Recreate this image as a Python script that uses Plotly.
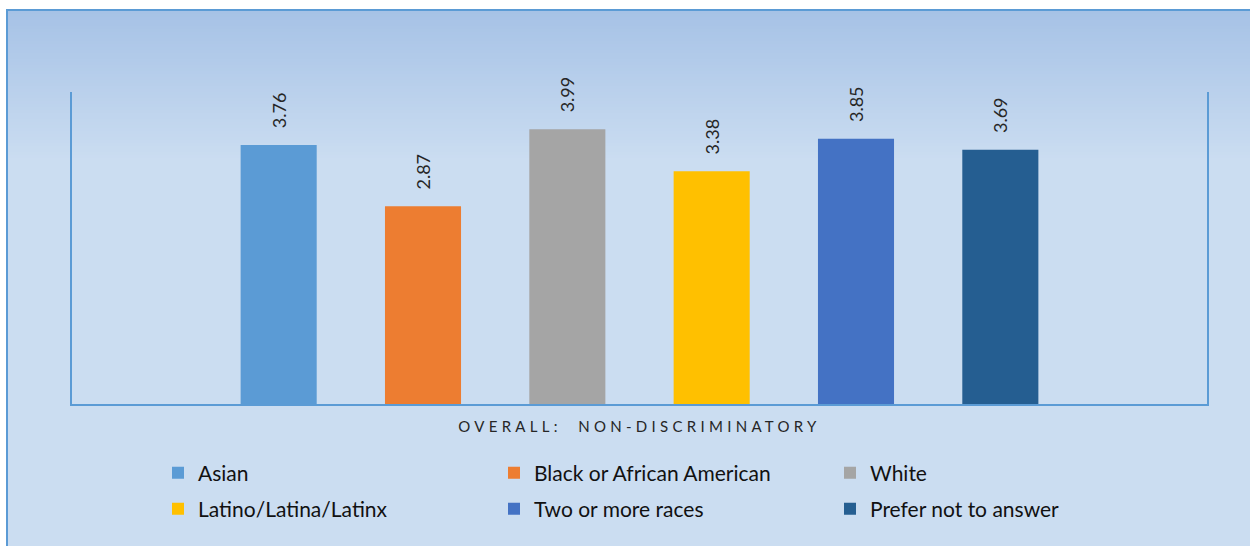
import plotly.graph_objects as go

# ---- data ----
category = ["OVERALL:\u00a0\u00a0NON-DISCRIMINATORY"]
groups = ["Asian", "Black or African American", "White",
          "Latino/Latina/Latinx", "Two or more races", "Prefer not to answer"]
values = [3.76, 2.87, 3.99, 3.38, 3.85, 3.69]
colors = ["#5B9BD5", "#ED7D31", "#A5A5A5", "#FFC000", "#4472C4", "#255E91"]

W, H = 1250, 546
L, R, T, B = 72, 43, 92, 142
PW, PH = W - L - R, H - T - B

def px_x(p):
    return (p - L) / PW

def px_y(p):
    return (H - B - p) / PH

FONT = "Lato, 'Open Sans', sans-serif"

fig = go.Figure()
for i, (g, v, c) in enumerate(zip(groups, values, colors)):
    fig.add_trace(go.Bar(
        name=g, x=category, y=[v], marker_color=c, marker_line_width=0,
        text=["\u00a0\u00a0\u00a0" + f"{v:.2f}"], textposition="outside",
        textangle=-90, constraintext="none", cliponaxis=False,
        textfont=dict(family=FONT, size=18, color="#262626"),
        legend="legend" if i < 3 else "legend2",
    ))

shapes = []
top_px, grad_end = 10, 160
c0 = (166, 194, 230)
c1 = (203, 221, 241)
shapes.append(dict(type="rect", xref="paper", yref="paper", layer="below",
                   x0=px_x(7), x1=px_x(1260), y0=px_y(560), y1=px_y(top_px),
                   fillcolor="rgb(%d,%d,%d)" % c1,
                   line=dict(color="#5B9BD5", width=2)))
n = 50
for k in range(n):
    a = top_px + 1 + (grad_end - top_px) * k / n
    b = top_px + 1 + (grad_end - top_px) * (k + 1) / n
    t = (k + 0.5) / n
    col = tuple(round(c0[j] + (c1[j] - c0[j]) * t) for j in range(3))
    shapes.append(dict(type="rect", xref="paper", yref="paper", layer="below",
                       x0=px_x(8), x1=px_x(1260), y0=px_y(b + 0.5), y1=px_y(a),
                       fillcolor="rgb(%d,%d,%d)" % col, line=dict(width=0)))

legend_common = dict(orientation="h", xanchor="left", yanchor="middle",
                     bgcolor="rgba(0,0,0,0)", entrywidth=291, entrywidthmode="pixels",
                     font=dict(family=FONT, size=21, color="#111111"),
                     traceorder="normal")

fig.update_layout(
    width=W, height=H,
    margin=dict(l=L, r=R, t=T, b=B, pad=0),
    paper_bgcolor="white", plot_bgcolor="rgba(0,0,0,0)",
    barmode="group", bargap=0.237, bargroupgap=0.473,
    shapes=shapes,
    showlegend=True,
    legend=dict(x=px_x(158), y=px_y(473), **legend_common),
    legend2=dict(x=px_x(158), y=px_y(509), **legend_common),
    xaxis=dict(showline=True, linecolor="#5B9BD5", linewidth=2, ticks="",
               showgrid=False, zeroline=False, ticklabelstandoff=8,
               tickfont=dict(family=FONT, size=15, color="#262626")),
    yaxis=dict(range=[0, 4.53], showline=True, mirror=True, linecolor="#5B9BD5",
               linewidth=2, showticklabels=False, ticks="", showgrid=False,
               zeroline=False),
)

post = """
document.querySelectorAll('.xtick text').forEach(function(t){
  t.style.letterSpacing='4.3px';
});
"""
fig.write_html("out.html", post_script=post)
